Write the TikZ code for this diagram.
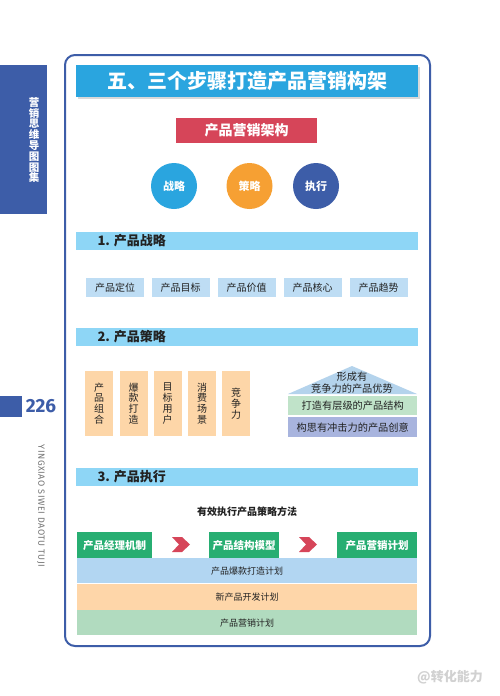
\documentclass[tikz,border=0pt]{standalone}
\usepackage{fontspec}
\setmainfont{Noto Sans CJK SC}
\newfontfamily\latinfont{Fira Sans}
\newfontfamily\latinlight{Fira Sans}[LetterSpace=6]
\usetikzlibrary{shapes.geometric}
\definecolor{frameblue}{HTML}{3D5DA8}
\definecolor{titleblue}{HTML}{2AA5DF}
\definecolor{redbox}{HTML}{D64559}
\definecolor{orangec}{HTML}{F6A033}
\definecolor{secbar}{HTML}{8ED6F6}
\definecolor{lblue}{HTML}{BEDDF4}
\definecolor{peach}{HTML}{FDD6A8}
\definecolor{roof}{HTML}{B4D3EC}
\definecolor{lgreen}{HTML}{C0E3C9}
\definecolor{lavender}{HTML}{A8B4DE}
\definecolor{gbox}{HTML}{27AE72}
\definecolor{barblue}{HTML}{B2D6F2}
\definecolor{barpeach}{HTML}{FED6A9}
\definecolor{bargreen}{HTML}{B1DBBF}
\definecolor{darktext}{HTML}{222222}
\tikzset{
  secbox/.style={fill=secbar, draw=none, minimum width=342pt, minimum height=18pt, anchor=north west, inner sep=0pt},
  sectext/.style={anchor=west, text=darktext, font=\bfseries\fontsize{13}{13}\selectfont},
  stratbox/.style={fill=lblue, minimum width=58pt, minimum height=19pt, inner sep=0pt, text=darktext, font=\fontsize{10}{10}\selectfont},
  vbox/.style={fill=peach, minimum width=28pt, minimum height=65pt, inner sep=0pt, text=darktext, align=center, font=\fontsize{10}{10.8}\selectfont},
  circ/.style={circle, minimum size=46pt, inner sep=0pt, text=white, font=\bfseries\fontsize{11}{11}\selectfont},
  gstep/.style={fill=gbox, minimum height=26pt, inner sep=0pt, text=white, font=\bfseries\fontsize{10.5}{10.5}\selectfont},
  planbar/.style={minimum width=340pt, minimum height=25pt, inner sep=0pt, text=darktext, font=\fontsize{9}{9}\selectfont},
  chev/.style={fill=redbox, draw=none},
}
\begin{document}
\begin{tikzpicture}[x=1pt,y=-1pt]
\useasboundingbox (0,0) rectangle (500,696);
\fill[white] (0,0) rectangle (500,696);

% left tab
\fill[frameblue] (0,65) rectangle (47,214);
\node[text=white, align=center, font=\bfseries\fontsize{10.5}{10.8}\selectfont] (tab) at (34,140) {营\\销\\思\\维\\导\\图\\图\\集};

% page number
\fill[frameblue] (0,396) rectangle (22,417);
\node[text=frameblue, font=\latinfont\bfseries\fontsize{19}{19}\selectfont] (pnum) at (41,406.5) {226};
\node[rotate=-90, text=black!55, font=\latinlight\fontsize{9}{9}\selectfont] (pinyin) at (41,506) {YINGXIAO SIWEI DAOTU TUJI};

% main frame
\draw[frameblue, line width=2pt, rounded corners=10pt] (65,55) rectangle (430,646);

% title
\fill[black!15] (78,67) rectangle (420,99);
\node[fill=titleblue, minimum width=342pt, minimum height=32pt, inner sep=0pt, anchor=north west] (title) at (76,65) {};
\node[text=white, font=\bfseries\fontsize{20}{20}\selectfont] (titletext) at (247,81) {五、三个步骤打造产品营销构架};

% red header
\node[fill=redbox, minimum width=141pt, minimum height=25pt, inner sep=0pt, text=white, font=\bfseries\fontsize{14}{14}\selectfont] (arch) at (246.5,130.5) {产品营销架构};

% circles
\node[circ, fill=titleblue] (c1) at (174,186) {战略};
\node[circ, fill=orangec] (c2) at (249.5,186) {策略};
\node[circ, fill=frameblue] (c3) at (316,186) {执行};

% section 1
\node[secbox] (s1) at (76,232) {};
\node[sectext] (s1t) at (94,241) {1. 产品战略};
\node[stratbox] (b1) at (115,287.5) {产品定位};
\node[stratbox] (b2) at (180.5,287.5) {产品目标};
\node[stratbox] (b3) at (246.5,287.5) {产品价值};
\node[stratbox] (b4) at (312.5,287.5) {产品核心};
\node[stratbox] (b5) at (378.5,287.5) {产品趋势};

% section 2
\node[secbox] (s2) at (76,328) {};
\node[sectext] (s2t) at (94,337) {2. 产品策略};
\node[vbox] (v1) at (99,403.5) {产\\品\\组\\合};
\node[vbox] (v2) at (133.5,403.5) {爆\\款\\打\\造};
\node[vbox] (v3) at (167.5,403.5) {目\\标\\用\\户};
\node[vbox] (v4) at (202,403.5) {消\\费\\场\\景};
\node[vbox] (v5) at (236,403.5) {竞\\争\\力};

% pyramid
\fill[roof] (288,394) -- (352,366) -- (417,394) -- cycle;
\node[text=darktext, align=center, font=\fontsize{10.2}{12}\selectfont] (roofText) at (352,383) {形成有\\竞争力的产品优势};
\node[fill=lgreen, minimum width=129pt, minimum height=19pt, inner sep=0pt, text=darktext, font=\fontsize{10.2}{10.2}\selectfont, anchor=north west] (layer1) at (288,396) {打造有层级的产品结构};
\node[fill=lavender, minimum width=129pt, minimum height=20pt, inner sep=0pt, text=darktext, font=\fontsize{10.2}{10.2}\selectfont, anchor=north west] (layer2) at (288,417) {构思有冲击力的产品创意};

% section 3
\node[secbox] (s3) at (76,468) {};
\node[sectext] (s3t) at (94,477) {3. 产品执行};
\node[text=darktext, font=\bfseries\fontsize{10}{10}\selectfont] (method) at (247,512) {有效执行产品策略方法};

\node[gstep, minimum width=75pt, anchor=north west] (g1) at (77,532) {产品经理机制};
\node[gstep, minimum width=70pt, anchor=north west] (g2) at (209,532) {产品结构模型};
\node[gstep, minimum width=80pt, anchor=north west] (g3) at (337,532) {产品营销计划};

\fill[chev] (172,537) -- (182,537) -- (190,544.5) -- (182,552) -- (172,552) -- (179,544.5) -- cycle;
\fill[chev] (299,537) -- (309,537) -- (317,544.5) -- (309,552) -- (299,552) -- (306,544.5) -- cycle;

\node[planbar, fill=barblue, anchor=north west] (p1) at (77,558) {产品爆款打造计划};
\node[planbar, fill=barpeach, anchor=north west, minimum height=26pt] (p2) at (77,583.5) {新产品开发计划};
\node[planbar, fill=bargreen, anchor=north west] (p3) at (77,610) {产品营销计划};

% watermark
\node[text=black!18, font=\bfseries\fontsize{13}{13}\selectfont] (wm) at (450,677) {@转化能力};
\end{tikzpicture}
\end{document}
